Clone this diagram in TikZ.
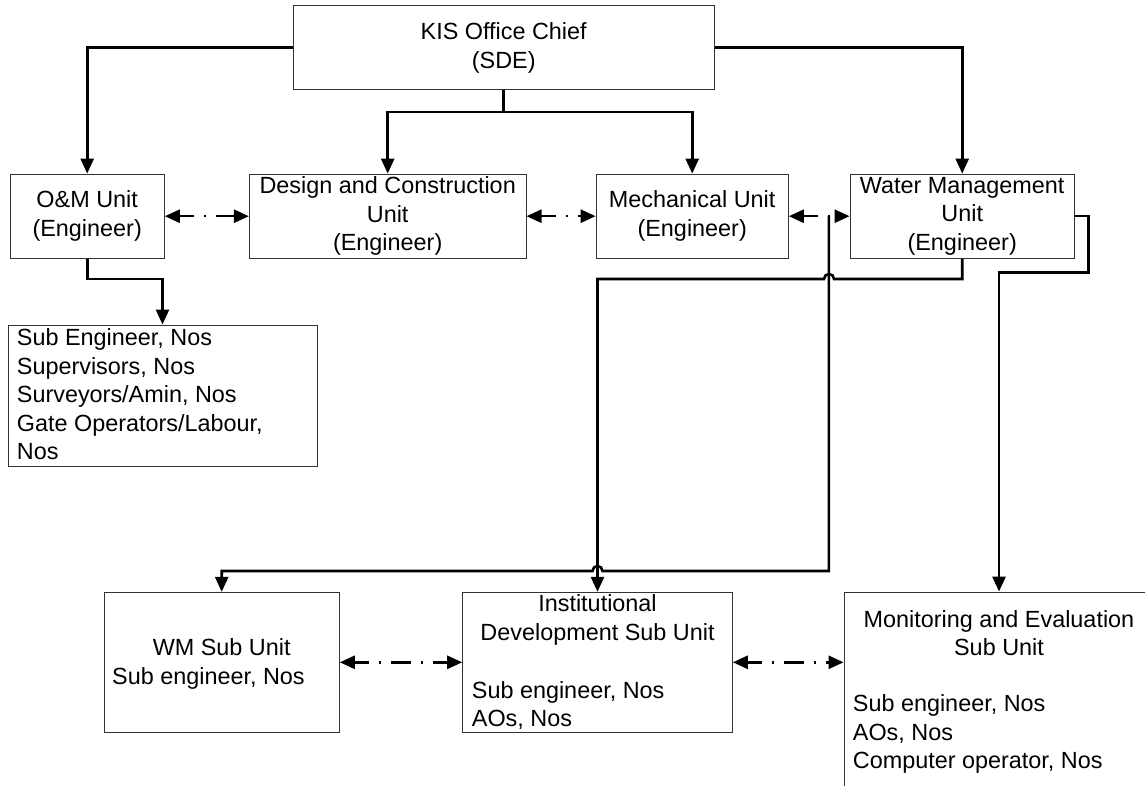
\documentclass[tikz,border=0pt]{standalone}
\usepackage{fontspec}
\setmainfont{Liberation Sans}
\usetikzlibrary{arrows.meta,calc}
\begin{document}
\begin{tikzpicture}[x=1pt,y=-1pt,
  fnt/.style={font=\fontsize{23.4}{28.5}\selectfont},
  box/.style={draw=black!80, line width=0.9pt, rectangle, inner sep=0pt, align=center, fnt},
  conn/.style={line width=2.6pt, black},
  tip/.style={-{Triangle[length=15pt,width=13pt]}},
  dd/.style={conn, {Triangle[length=15pt,width=13pt]}-{Triangle[length=15pt,width=13pt]}, dash pattern=on 20pt off 10pt on 2pt off 10pt, dash phase=5pt},
  ctxt/.style={inner sep=0pt, fnt, anchor=base},
  ltxt/.style={inner sep=0pt, fnt, anchor=base west}
]
\useasboundingbox (0,0) rectangle (1145,786);
\clip (0,0) rectangle (1145,786);
\fill[white] (0,0) rectangle (1145,786);

% top row
\node[box, minimum width=420.7pt, minimum height=84.5pt] (kis) at (503.7,47.7) {KIS Office Chief\\(SDE)};
\node[box, minimum width=154.3pt, minimum height=84.3pt] (om) at (87.2,216.2) {O\&M Unit\\(Engineer)};
\node[box, minimum width=276.7pt, minimum height=84.3pt] (dc) at (387.7,216.2) {Design and Construction\\Unit\\(Engineer)};
\node[box, minimum width=192.3pt, minimum height=84.3pt] (mech) at (692.2,216.2) {Mechanical Unit\\(Engineer)};
\node[box, minimum width=224.3pt, minimum height=84.3pt] (wm) at (962.2,216.2) {Water Management\\Unit\\(Engineer)};

% staff box under O&M
\node[box, minimum width=309pt, minimum height=141pt] (sub) at (162.5,395.5) {};
\node[ltxt] (s1) at (16.7,345.7) {Sub Engineer, Nos};
\node[ltxt] (s2) at (16.7,374.2) {Supervisors, Nos};
\node[ltxt] (s3) at (16.7,402.7) {Surveyors/Amin, Nos};
\node[ltxt] (s4) at (16.7,431.2) {Gate Operators/Labour,};
\node[ltxt] (s5) at (16.7,459.7) {Nos};

% bottom row
\node[box, minimum width=235.3pt, minimum height=140pt] (wms) at (221.7,662.3) {};
\node[ctxt] (w1) at (221.7,655.7) {WM Sub Unit};
\node[ltxt] (w2) at (112,684) {Sub engineer, Nos};

\node[box, minimum width=269.7pt, minimum height=140pt] (inst) at (597.5,662.3) {};
\node[ctxt] (i1) at (597.5,611.7) {Institutional};
\node[ctxt] (i2) at (597.5,640.2) {Development Sub Unit};
\node[ltxt] (i3) at (471.7,698) {Sub engineer, Nos};
\node[ltxt] (i4) at (471.7,726.5) {AOs, Nos};

\node[box, minimum width=316pt, minimum height=208pt] (me) at (1002,696) {};
\node[ctxt] (m1) at (999,627) {Monitoring and Evaluation};
\node[ctxt] (m2) at (999,655.5) {Sub Unit};
\node[ltxt] (m3) at (852.7,711.7) {Sub engineer, Nos};
\node[ltxt] (m4) at (852.7,740.2) {AOs, Nos};
\node[ltxt] (m5) at (852.7,768.7) {Computer operator, Nos};

% helper coordinates
\coordinate (kb) at (503.7,112);
\coordinate (omb) at (87.2,279);
\coordinate (subt) at (162.5,279);
\coordinate (wmb) at (962.2,279);
\coordinate (h1r) at (834,279);
\coordinate (instt) at (597.5,279);
\coordinate (j) at ($(mech.east)!0.66!(wm.west)$);
\coordinate (jb) at (j |- 0,571);
\coordinate (h2r) at (602.5,571);
\coordinate (wmst) at (221.7,571);
\coordinate (wr1) at (1088.3,216.2);
\coordinate (wr2) at (1088.3,272.3);
\coordinate (wr3) at (999,272.3);

% connectors from chief
\draw[conn,tip] (kis.west) -| (om.north);
\draw[conn,tip] (kis.east) -| (wm.north);
\draw[conn,tip] (kis.south) -- (kb) -| (dc.north);
\draw[conn,tip] (kb) -| (mech.north);

% O&M to staff
\draw[conn,tip] (om.south) -- (omb) -- (subt) -- (sub.north);

% lateral dash-dot links
\draw[dd] (om.east) -- (dc.west);
\draw[dd] (dc.east) -- (mech.west);
\draw[dd] (mech.east) -- (wm.west);
\draw[dd] (wms.east) -- (inst.west);
\draw[dd] (inst.east) -- (inst.east -| me.west);

% WM unit to Institutional (with hop)
\draw[conn,tip] (wm.south) -- (wmb) -- (h1r) arc[start angle=0,end angle=-180,radius=5] -- (instt) -- (inst.north);

% link to WM Sub Unit (with hop)
\draw[conn,tip] (j) -- (jb) -- (h2r) arc[start angle=0,end angle=-180,radius=5] -- (wmst) -- (wms.north);

% WM unit to M&E
\draw[conn,tip] (wm.east) -- (wr1) -- (wr2) -- (wr3) -- (wr3 |- me.north);
\end{tikzpicture}
\end{document}
